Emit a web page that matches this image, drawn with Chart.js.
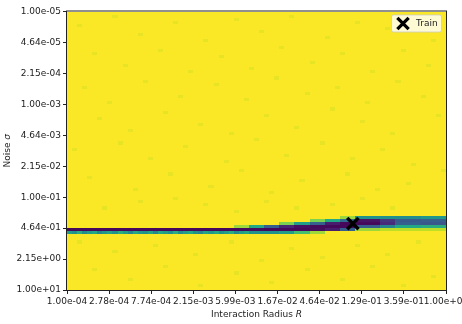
<!DOCTYPE html>
<html>
<head>
<meta charset="utf-8">
<script src="https://cdn.jsdelivr.net/npm/chart.js@4.4.1/dist/chart.umd.min.js"></script>
<style>
  html, body { margin: 0; padding: 0; background: #fff; }
  #wrap { width: 462px; height: 324px; }
</style>
</head>
<body>
<div id="wrap"><canvas id="sweep"></canvas></div>
<script>
// Sweep grid: radius columns x noise rows, both log-spaced
const radiusRange = [1e-4, 1];
const noiseRange = [1e-5, 10];
const nCols = 75;
const nRows = 90;

const radiusTicks = [1e-4, 2.78e-4, 7.74e-4, 2.15e-3, 5.99e-3, 1.67e-2, 4.64e-2, 1.29e-1, 3.59e-1, 1];
const noiseTicks = [1e-5, 4.64e-5, 2.15e-4, 1e-3, 4.64e-3, 2.15e-2, 1e-1, 4.64e-1, 2.15, 10];

// Training configuration
const trainPoint = [{ x: 0.104, y: 0.37 }];

// Scores (0..1, viridis) - most of the grid sits at the top of the scale
const backgroundScore = 0.995;
const speckleScore = 0.965;
const speckles = [
  [2, 4], [9, 1], [14, 7], [21, 3], [27, 9], [33, 2], [38, 6], [44, 1], [51, 8], [57, 3], [63, 5], [69, 2], [72, 9],
  [5, 13], [11, 17], [18, 12], [24, 19], [30, 14], [36, 18], [42, 11], [48, 16], [54, 13], [60, 19], [66, 12], [71, 17],
  [3, 24], [8, 29], [15, 22], [22, 27], [29, 23], [35, 28], [41, 21], [47, 26], [53, 24], [59, 29], [65, 22], [70, 27],
  [6, 34], [12, 38], [19, 32], [26, 36], [32, 39], [39, 33], [45, 37], [52, 31], [58, 35], [64, 39], [73, 33],
  [1, 44], [10, 42], [16, 47], [23, 43], [31, 48], [37, 41], [43, 46], [50, 42], [56, 47], [62, 44], [68, 49],
  [4, 53], [13, 57], [20, 52], [28, 56], [34, 51], [40, 58], [46, 54], [55, 52], [61, 57], [67, 55], [74, 51],
  [7, 63], [14, 61], [21, 60], [27, 62], [33, 64], [39, 61], [45, 63], [52, 62], [58, 60], [64, 63],
  [2, 74], [9, 77], [17, 75], [25, 78], [32, 74], [38, 80], [44, 76], [50, 79], [57, 75], [63, 78], [69, 74],
  [5, 83], [12, 86], [19, 82], [26, 88], [33, 84], [40, 87], [47, 83], [54, 86], [60, 82], [66, 88], [72, 85]
];

// Low-radius part of the band: dark row 70, teal row 71 underneath
const leftDarkRow = 70;
const leftDarkScore = 0.02;
const leftTealRow = [0.55, 0.5, 0.62, 0.48, 0.55, 0.6, 0.45, 0.52, 0.58, 0.5, 0.62, 0.55,
  0.47, 0.6, 0.53, 0.5, 0.58, 0.45, 0.6, 0.55, 0.5, 0.62, 0.48, 0.55,
  0.6, 0.5, 0.45, 0.58, 0.53, 0.6, 0.5, 0.55, 0.62, 0.48, 0.55, 0.6];

// Rising part of the band: column range, first row, scores going down
const bandRuns = [
  { cols: [33, 35], top: 69, scores: [0.85] },
  { cols: [36, 38], top: 69, scores: [0.6, 0.03, 0.5] },
  { cols: [39, 41], top: 69, scores: [0.3, 0.02, 0.5] },
  { cols: [42, 44], top: 68, scores: [0.8, 0.1, 0.02, 0.55] },
  { cols: [45, 47], top: 68, scores: [0.55, 0.04, 0.02, 0.7] },
  { cols: [48, 50], top: 67, scores: [0.8, 0.3, 0.02, 0.03, 0.85] },
  { cols: [51, 53], top: 67, scores: [0.6, 0.08, 0.02, 0.08] },
  { cols: [54, 56], top: 66, scores: [0.85, 0.35, 0.02, 0.02, 0.3] },
  { cols: [57, 61], top: 66, scores: [0.5, 0.05, 0.02, 0.3, 0.85] },
  { cols: [62, 64], top: 66, scores: [0.5, 0.15, 0.12, 0.45, 0.9] },
  { cols: [65, 69], top: 66, scores: [0.48, 0.28, 0.3, 0.6, 0.9] },
  { cols: [70, 74], top: 66, scores: [0.52, 0.3, 0.27, 0.62, 0.9] }
];

// viridis stops at 0, 0.1, ..., 1
const viridis = ["#440154", "#482475", "#414487", "#355f8d", "#2a788e", "#21918c",
  "#22a884", "#44bf70", "#7ad151", "#bddf26", "#fde725"];

function viridisColor(t) {
  t = Math.min(1, Math.max(0, t));
  const pos = t * (viridis.length - 1);
  const i = Math.min(viridis.length - 2, Math.floor(pos));
  const f = pos - i;
  const a = viridis[i], b = viridis[i + 1];
  const ch = (hex, k) => parseInt(hex.substr(1 + 2 * k, 2), 16);
  const rgb = [0, 1, 2].map(k => Math.round(ch(a, k) + (ch(b, k) - ch(a, k)) * f));
  return `rgb(${rgb[0]}, ${rgb[1]}, ${rgb[2]})`;
}

function buildGrid() {
  const grid = Array.from({ length: nRows }, () => Array(nCols).fill(backgroundScore));
  speckles.forEach(([c, r]) => { grid[r][c] = speckleScore; });
  leftTealRow.forEach((s, c) => {
    grid[leftDarkRow][c] = leftDarkScore;
    grid[leftDarkRow + 1][c] = s;
  });
  bandRuns.forEach(run => {
    for (let c = run.cols[0]; c <= run.cols[1]; c++) {
      run.scores.forEach((s, i) => { grid[run.top + i][c] = s; });
    }
  });
  return grid;
}

// cell edges in data space
function logEdge(range, n, i) {
  const a = Math.log10(range[0]), b = Math.log10(range[1]);
  return Math.pow(10, a + (b - a) * i / n);
}

// matplotlib-style 1.00e-04
function sci(v) {
  const [m, e] = Number(v).toExponential(2).split("e");
  const n = parseInt(e, 10);
  return `${m}e${n < 0 ? "-" : "+"}${String(Math.abs(n)).padStart(2, "0")}`;
}

const FONT = "DejaVu Sans";
const grid = buildGrid();

const heatmapPlugin = {
  id: "heatmap",
  beforeDatasetsDraw(chart) {
    const { ctx, chartArea, scales: { x, y } } = chart;
    ctx.save();
    ctx.beginPath();
    ctx.rect(chartArea.left, chartArea.top, chartArea.width, chartArea.height);
    ctx.clip();
    for (let r = 0; r < nRows; r++) {
      const y0 = Math.round(y.getPixelForValue(logEdge(noiseRange, nRows, r)));
      const y1 = Math.round(y.getPixelForValue(logEdge(noiseRange, nRows, r + 1)));
      for (let c = 0; c < nCols; c++) {
        const x0 = Math.round(x.getPixelForValue(logEdge(radiusRange, nCols, c)));
        const x1 = Math.round(x.getPixelForValue(logEdge(radiusRange, nCols, c + 1)));
        ctx.fillStyle = viridisColor(grid[r][c]);
        ctx.fillRect(x0, Math.min(y0, y1), x1 - x0, Math.abs(y1 - y0));
      }
    }
    ctx.restore();
  }
};

const decorPlugin = {
  id: "decor",
  afterDraw(chart) {
    const { ctx, chartArea } = chart;
    ctx.save();
    // frame
    ctx.strokeStyle = "#222";
    ctx.lineWidth = 1;
    ctx.strokeRect(chartArea.left - 0.5, chartArea.top - 0.5, chartArea.width + 1, chartArea.height + 1);

    // axis titles with italic symbols
    ctx.fillStyle = "#222";
    ctx.textBaseline = "middle";
    const drawMixed = (plain, sym, cx, cy) => {
      ctx.font = `9px "${FONT}"`;
      const w1 = ctx.measureText(plain).width;
      ctx.font = `italic 9px "${FONT}"`;
      const w2 = ctx.measureText(sym).width;
      const start = cx - (w1 + w2) / 2;
      ctx.textAlign = "left";
      ctx.font = `9px "${FONT}"`;
      ctx.fillText(plain, start, cy);
      ctx.font = `italic 9px "${FONT}"`;
      ctx.fillText(sym, start + w1, cy);
    };
    drawMixed("Interaction Radius ", "R", (chartArea.left + chartArea.right) / 2, 315);
    ctx.save();
    ctx.translate(8, (chartArea.top + chartArea.bottom) / 2);
    ctx.rotate(-Math.PI / 2);
    drawMixed("Noise ", "σ", 0, 0);
    ctx.restore();

    // legend
    const bx = chartArea.right - 55, by = chartArea.top + 3, bw = 50, bh = 17;
    ctx.beginPath();
    ctx.roundRect(bx + 0.5, by + 0.5, bw, bh, 2);
    ctx.fillStyle = "rgba(255, 255, 255, 0.8)";
    ctx.fill();
    ctx.lineWidth = 1;
    ctx.strokeStyle = "rgba(204, 204, 204, 0.8)";
    ctx.stroke();
    ctx.strokeStyle = "#000";
    ctx.fillStyle = "#000";
    ctx.lineWidth = 3.3;
    Chart.helpers.drawPoint(ctx, {
      pointStyle: "crossRot", radius: 8, rotation: 0, borderWidth: 3.3
    }, bx + 12, by + 9);
    ctx.fillStyle = "#222";
    ctx.font = `9px "${FONT}"`;
    ctx.textAlign = "left";
    ctx.fillText("Train", bx + 25, by + 9.5);
    ctx.restore();
  }
};

const tickStyle = {
  display: true,
  drawOnChartArea: false,
  drawTicks: true,
  tickLength: 4,
  color: "#222",
  tickColor: "#222",
  lineWidth: 1
};

new Chart(document.getElementById("sweep"), {
  type: "scatter",
  data: {
    datasets: [{
      label: "Train",
      data: trainPoint,
      pointStyle: "crossRot",
      pointRadius: 8,
      pointHoverRadius: 8,
      pointBorderWidth: 3.5,
      borderColor: "#000",
      backgroundColor: "#000"
    }]
  },
  options: {
    responsive: true,
    maintainAspectRatio: false,
    animation: false,
    layout: { padding: { left: 0, right: 16, top: 10, bottom: 0 } },
    plugins: {
      legend: { display: false },
      tooltip: { enabled: false }
    },
    scales: {
      x: {
        type: "logarithmic",
        min: radiusRange[0],
        max: radiusRange[1],
        grid: tickStyle,
        border: { display: false },
        ticks: {
          autoSkip: false,
          maxRotation: 0,
          padding: 2,
          color: "#222",
          font: { family: FONT, size: 9 },
          callback: value => sci(value)
        },
        afterBuildTicks: scale => { scale.ticks = radiusTicks.map(v => ({ value: v })); },
        afterFit: scale => {
          scale.height = 34;
          scale.paddingLeft = 0;
          scale.paddingRight = 0;
        }
      },
      y: {
        type: "logarithmic",
        reverse: true,
        min: noiseRange[0],
        max: noiseRange[1],
        grid: tickStyle,
        border: { display: false },
        ticks: {
          autoSkip: false,
          padding: 2,
          color: "#222",
          font: { family: FONT, size: 9 },
          callback: value => sci(value)
        },
        afterBuildTicks: scale => { scale.ticks = noiseTicks.map(v => ({ value: v })); },
        afterFit: scale => {
          scale.width = 67;
          scale.paddingTop = 0;
          scale.paddingBottom = 0;
        }
      }
    }
  },
  plugins: [heatmapPlugin, decorPlugin]
});
</script>
</body>
</html>
